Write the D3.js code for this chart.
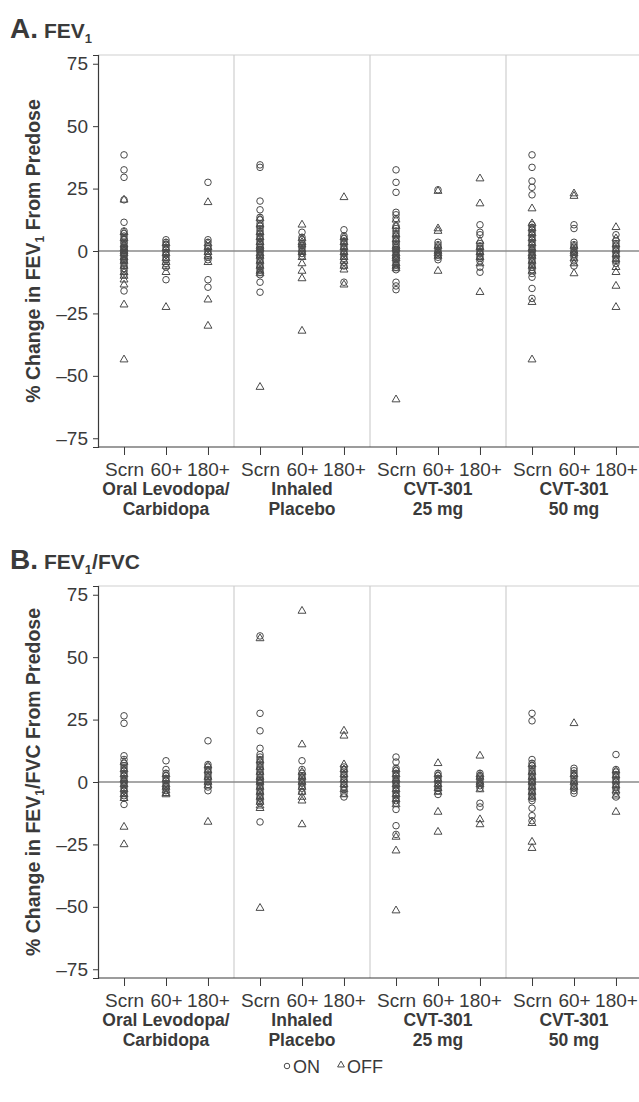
<!DOCTYPE html>
<html>
<head>
<meta charset="utf-8">
<script src="https://cdn.jsdelivr.net/npm/d3@7"></script>
<style>
  body { margin: 0; background: #fff; }
  svg { font-family: "Liberation Sans", Arial, sans-serif; }
</style>
</head>
<body>
<div id="chart"></div>
<script>
// categories
const visits = ["Scrn", "60+", "180+"];
const groups = [["Oral Levodopa/", "Carbidopa"], ["Inhaled", "Placebo"], ["CVT-301", "25 mg"], ["CVT-301", "50 mg"]];
const yTicks = [75, 50, 25, 0, -25, -50, -75];

// A. FEV1 -- one sub-array per treatment group
const fevScrnOn = [
  [38.5, 32.5, 29.5, 20.5, 11.5, 8, 7, 6, 5, 4.5, 3.5, 3, 2, 1.5, 1, 0.5, 0, -0.5, -1, -1.5, -2, -3, -3.5, -4, -5, -6, -7, -8, -9.5, -16],
  [34.5, 33.5, 20, 16.5, 13.5, 12.5, 11, 10, 9, 8, 7, 6, 5, 4, 3, 2.5, 1.5, 0.5, 0, -0.5, -1.5, -2.5, -3.5, -4.5, -5.5, -6.5, -7.5, -8.5, -9.5, -12.5, -16.5],
  [32.5, 27.5, 23.5, 15.5, 14.5, 13, 10, 9, 8, 7, 6, 5, 4, 3, 2.5, 1.5, 0.5, 0, -0.5, -1.5, -2.5, -3.5, -4.5, -5.5, -6.5, -7.5, -12.5, -14, -15.5],
  [38.5, 33.5, 28, 25.5, 22.5, 10.5, 9.5, 8.5, 7.5, 6.5, 5.5, 4.5, 3.5, 2.5, 1.5, 0.5, 0, -0.5, -1.5, -2.5, -3.5, -4.5, -5.5, -6.5, -7.5, -9, -10.5, -15, -19]
];
const fevScrnOff = [
  [20.5, 7.5, 5, 2.5, 1, 0, -1, -2.5, -4, -6, -8.5, -10, -11.5, -13.5, -21.5, -43.5],
  [13, 10.5, 7.5, 5.5, 3.5, 2, 1, -1, -2, -4, -6, -8, -9, -54.5],
  [12.5, 10, 6.5, 4.5, 2, 1, -1, -2, -3, -5, -6, -7, -59.5],
  [17, 11, 9, 7, 5, 3, 1, -1, -2, -4, -6, -8, -20.5, -43.5]
];
const fev60On = [
  [4.5, 3.5, 2.5, 1.5, 0.5, -0.5, -1.5, -2.5, -3.5, -5, -6.5, -11.5],
  [7.5, 5.5, 4.5, 3, 2, 1, 0, -1, -2],
  [24.5, 3.5, 2.5, 1.5, 0.5, -0.5, -1.5, -2.5, -3.5],
  [10.5, 9, 3.5, 2.5, 1.5, 0.5, -0.5, -1.5, -2.5, -4, -6]
];
const fev60Off = [
  [3, 1, -1, -3, -4.5, -6, -8.5, -22.5],
  [10.5, 5, 3.5, 2.5, 0.5, -0.5, -2.5, -5, -8, -11, -32],
  [24, 9, 8, 2, 0, -1, -2, -8],
  [23, 22, 2, 0, -1, -3, -5, -9]
];
const fev180On = [
  [27.5, 4.5, 3.5, 2, 1, 0, -1, -2.5, -3.5, -11.5, -14.5],
  [8.5, 6, 5, 4, 3, 2, 1, 0, -1, -2, -3, -4.5, -6, -12.5],
  [10.5, 7.5, 6.5, 3, 2, 1, 0, -1, -2, -3, -4, -6.5, -8.5],
  [6.5, 4, 3, 2, 1, 0, -1, -2, -3, -4, -5]
];
const fev180Off = [
  [19.5, 3, 1.5, -0.5, -2, -4.5, -19.5, -30],
  [21.5, 5.5, 3.5, 1.5, -0.5, -2.5, -4, -6, -7.5, -13.5],
  [29, 19, 4, 1.5, -0.5, -2.5, -5, -16.5],
  [9.5, 5, 2.5, 0.5, -1.5, -3.5, -6.5, -8.5, -14, -22.5]
];

// B. FEV1/FVC
const ratioScrnOn = [
  [26.5, 23.5, 10.5, 9, 7.5, 6.5, 5.5, 4.5, 3.5, 2.5, 1.5, 0.5, 0, -0.5, -1.5, -2.5, -3.5, -4.5, -5.5, -6.5, -9],
  [58.5, 27.5, 20.5, 13.5, 11, 10, 9, 8, 7, 6, 5, 4, 3, 2, 1, 0.5, 0, -0.5, -1.5, -2.5, -3.5, -4.5, -5.5, -6.5, -7.5, -8.5, -16],
  [10, 8, 5.5, 4.5, 3.5, 2.5, 1.5, 0.5, 0, -0.5, -1.5, -2.5, -3.5, -4.5, -5.5, -6.5, -7.5, -8.5, -11, -17.5, -21],
  [27.5, 24.5, 9, 7.5, 6.5, 5.5, 4.5, 3.5, 2.5, 1.5, 0.5, 0, -0.5, -1.5, -2.5, -3.5, -4.5, -5.5, -6.5, -7.5, -10.5, -13.5, -15.5]
];
const ratioScrnOff = [
  [8, 5, 3, 1, -1, -3, -5, -6.5, -18, -25],
  [57.5, 8.5, 6, 4, 2, 0, -2, -4, -6, -8, -9.5, -10.5, -50.5],
  [5, 3, 1, -1, -3, -5, -7, -9, -22, -27.5, -51.5],
  [7, 4, 2, 0, -2, -4, -6, -16.5, -24, -26.5]
];
const ratio60On = [
  [8.5, 5, 3.5, 2.5, 1.5, 0.5, -0.5, -1.5, -2.5, -3.5],
  [8.5, 5, 3.5, 2.5, 1.5, 0.5, -0.5, -1.5, -2.5, -4],
  [3.5, 2.5, 1.5, 0.5, -0.5, -1.5, -2.5, -3.5, -5],
  [5.5, 4.5, 3.5, 2.5, 1.5, 0.5, -0.5, -1.5, -2.5, -3.5, -4.5]
];
const ratio60Off = [
  [3, 1, -1, -2, -3.5, -4.5, -5],
  [68.5, 15, 4, 2, 0, -2, -4, -6, -7.5, -17],
  [7.5, 3, 1, -1, -2.5, -4, -12, -20],
  [23.5, 3, 0, -2]
];
const ratio180On = [
  [16.5, 7, 6, 5, 4, 3, 2, 1, 0, -1, -2, -3.5],
  [6, 5, 4, 3, 2, 1, 0, -1, -2, -3, -4.5, -6],
  [3.5, 2.5, 1.5, 0.5, -0.5, -1.5, -2.5, -8.5, -10],
  [11, 5, 4, 3, 2, 1, 0, -1, -2, -3, -4.5, -6]
];
const ratio180Off = [
  [6.5, 4.5, 2, 0, -1.5, -16],
  [20.5, 18.5, 7, 5, 3, 1, -1, -3, -5],
  [10.5, 3, 2, 0, -1, -3, -15, -17],
  [4.5, 2.5, 0.5, -1.5, -3.5, -5.5, -12]
];

const W = 639, H = 1102;
const left = 98, right = 642, plotH = 392;
const ink = "#3a3a3a", markInk = "#4a4a4a";

const svg = d3.select("#chart").append("svg")
  .attr("width", W).attr("height", H)
  .attr("xmlns", "http://www.w3.org/2000/svg");

const xGroup = d3.scaleBand().domain(d3.range(groups.length)).range([left, right]);
const xVisit = d3.scalePoint().domain(visits).range([0, xGroup.bandwidth()]).padding(0.62);
const circle = d3.symbol().type(d3.symbolCircle).size(34)();
const triangle = d3.symbol().type(d3.symbolTriangle).size(27)();

function flatten(on, off) {
  // on/off: arrays indexed by visit, each holding one sub-array per group
  const pts = [];
  visits.forEach((v, vi) => {
    groups.forEach((g, gi) => {
      on[vi][gi].forEach(val => pts.push({ g: gi, v, val, s: "ON" }));
      off[vi][gi].forEach(val => pts.push({ g: gi, v, val, s: "OFF" }));
    });
  });
  return pts;
}

function drawPanel(top, letter, titleMain, titleSub, titleRest, yLabel, points) {
  const y = d3.scaleLinear().domain([-78.5, 78.5]).range([top + plotH, top]);
  const g = svg.append("g");

  // title
  const t = g.append("text").attr("x", 10).attr("y", top - 17)
    .attr("fill", ink).attr("font-weight", "bold");
  t.append("tspan").attr("font-size", 28).text(letter);
  t.append("tspan").attr("font-size", 21).attr("dx", 6).text(titleMain);
  t.append("tspan").attr("font-size", 13).attr("dy", 5).text(titleSub);
  if (titleRest) t.append("tspan").attr("font-size", 21).attr("dy", -5).text(titleRest);

  // frame: light top / right, group separators
  g.append("line").attr("x1", left).attr("x2", right).attr("y1", top).attr("y2", top)
    .attr("stroke", "#cfcfcf").attr("stroke-width", 1.2);
  g.selectAll(".sep").data(d3.range(1, groups.length + 1)).join("line")
    .attr("x1", d => xGroup(d) || right).attr("x2", d => xGroup(d) || right)
    .attr("y1", top).attr("y2", top + plotH)
    .attr("stroke", "#cfcfcf").attr("stroke-width", 1.2);

  // zero reference line
  g.append("line").attr("x1", left).attr("x2", right).attr("y1", y(0)).attr("y2", y(0))
    .attr("stroke", "#8a8a8a").attr("stroke-width", 1.6);

  // y axis
  const ya = g.append("g").attr("transform", `translate(${left},0)`)
    .call(d3.axisLeft(y).tickValues(yTicks).tickSize(5).tickPadding(5)
      .tickFormat(d => d < 0 ? "\u2013" + (-d) : d));
  ya.select(".domain").attr("stroke", ink).attr("stroke-width", 1.2);
  ya.selectAll(".tick line").attr("stroke", ink);
  ya.selectAll(".tick text").attr("font-size", 19).attr("fill", ink)
    .attr("font-family", "Liberation Sans, Arial, sans-serif");

  // x axes, one per group
  groups.forEach((lab, gi) => {
    const xa = g.append("g").attr("transform", `translate(${xGroup(gi)},${top + plotH})`)
      .call(d3.axisBottom(xVisit).tickSize(8).tickPadding(8));
    xa.select(".domain").remove();
    xa.selectAll(".tick line").attr("stroke", ink);
    xa.selectAll(".tick text").attr("font-size", 19).attr("fill", ink)
      .attr("font-family", "Liberation Sans, Arial, sans-serif");
    const cx = xGroup(gi) + xGroup.bandwidth() / 2;
    lab.forEach((line, li) => {
      g.append("text").attr("x", cx).attr("y", top + plotH + 48 + li * 19.8)
        .attr("text-anchor", "middle").attr("font-size", 17.5).attr("font-weight", "bold")
        .attr("fill", ink).text(line);
    });
  });
  g.append("line").attr("x1", left).attr("x2", right)
    .attr("y1", top + plotH).attr("y2", top + plotH)
    .attr("stroke", ink).attr("stroke-width", 1.2);

  // y title
  const yt = g.append("text")
    .attr("transform", `translate(40,${y(0)}) rotate(-90)`)
    .attr("text-anchor", "middle").attr("font-size", 19.5).attr("font-weight", "bold")
    .attr("fill", ink);
  yt.append("tspan").text(yLabel[0]);
  yt.append("tspan").attr("font-size", 12).attr("dy", 4).text("1");
  yt.append("tspan").attr("dy", -4).text(yLabel[1]);

  // points
  g.append("g").selectAll("path").data(points).join("path")
    .attr("d", d => d.s === "ON" ? circle : triangle)
    .attr("transform", d => `translate(${xGroup(d.g) + xVisit(d.v)},${y(d.val)})`)
    .attr("fill", "none").attr("stroke", markInk).attr("stroke-width", 1);
}

drawPanel(55, "A.", "FEV", "1", "", ["% Change in FEV", " From Predose"],
  flatten([fevScrnOn, fev60On, fev180On], [fevScrnOff, fev60Off, fev180Off]));
drawPanel(586, "B.", "FEV", "1", "/FVC", ["% Change in FEV", "/FVC From Predose"],
  flatten([ratioScrnOn, ratio60On, ratio180On], [ratioScrnOff, ratio60Off, ratio180Off]));

// legend
const leg = svg.append("g").attr("transform", "translate(0,1066)");
leg.append("path").attr("d", d3.symbol().type(d3.symbolCircle).size(24)())
  .attr("transform", "translate(287,0)").attr("fill", "none").attr("stroke", markInk);
leg.append("text").attr("x", 293).attr("y", 7).attr("font-size", 18).attr("fill", ink).text("ON");
leg.append("path").attr("d", d3.symbol().type(d3.symbolTriangle).size(20)())
  .attr("transform", "translate(341,-1)").attr("fill", "none").attr("stroke", markInk);
leg.append("text").attr("x", 347).attr("y", 7).attr("font-size", 18).attr("fill", ink).text("OFF");
</script>
</body>
</html>
